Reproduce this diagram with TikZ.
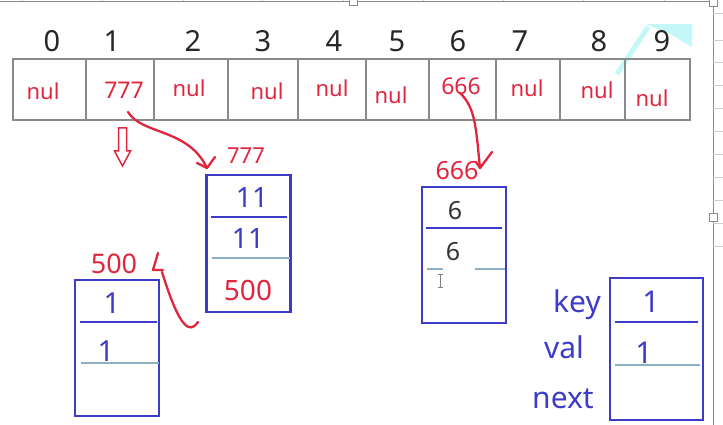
\documentclass[tikz,border=0pt]{standalone}
\usepackage{fontspec}
\setmainfont{Noto Sans}
\usetikzlibrary{arrows.meta}
\definecolor{hred}{HTML}{E0263F}
\definecolor{hblue}{HTML}{3C3CC8}
\definecolor{hlight}{HTML}{8FAFC6}
\definecolor{gridg}{HTML}{8A8A8A}
\definecolor{faint}{HTML}{D0D0D0}
\definecolor{hcyan}{HTML}{C4F8F8}
\begin{document}
\begin{tikzpicture}[x=1pt,y=-1pt,
  cellbox/.style={draw=gridg,line width=1.4pt,inner sep=0pt,outer sep=0pt,minimum height=61pt},
  idx/.style={anchor=base,inner sep=0pt,font=\fontsize{29}{29}\selectfont,text=black!85},
  redtxt/.style={anchor=base,inner sep=0pt,text=hred,font=\fontsize{22}{22}\selectfont},
  bluetxt/.style={anchor=base,inner sep=0pt,text=hblue},
  nodebox/.style={draw=hblue,line width=2.2pt,inner sep=0pt,outer sep=0pt,minimum width=84pt},
  darkdiv/.style={draw=hblue,line width=2.4pt},
  lightdiv/.style={draw=hlight,line width=2pt},
  pen/.style={draw=hred,line width=2.3pt,line cap=round,line join=round}]
\useasboundingbox (0,0) rectangle (723,425);
% spreadsheet frame
\draw[gridg,line width=0.8pt] (0,1) -- (713,1);
\draw[gridg,line width=0.8pt] (713,1) -- (713,425);
\foreach \x in {22,102,183,262,343,423,503,583,664}
  \draw[faint,line width=0.5pt] (\x,0) -- (\x,1);
\foreach \y in {13,40,62,85,108,131,154,177,200,223,246}
  \draw[faint,line width=0.6pt] (713,\y) -- (723,\y);
\draw[gridg,fill=white,line width=0.6pt] (349,-3) rectangle (357,5);
\draw[gridg,fill=white,line width=0.6pt] (709,-2) rectangle (717,6);
\draw[gridg,fill=white,line width=0.6pt] (709,213) rectangle (717,221);
% cyan highlight
\draw[hcyan,line width=5pt] (617,74) -- (648,27);
\fill[hcyan] (646,24) -- (692,24) -- (692,47) -- (670,34) -- cycle;
% array cells
\node[cellbox,minimum width=73pt] (c0) at (49.5,89.5) {};
\node[cellbox,minimum width=68pt] (c1) at (120,89.5) {};
\node[cellbox,minimum width=74pt] (c2) at (191,89.5) {};
\node[cellbox,minimum width=70pt] (c3) at (263,89.5) {};
\node[cellbox,minimum width=68pt] (c4) at (332,89.5) {};
\node[cellbox,minimum width=63pt] (c5) at (397.5,89.5) {};
\node[cellbox,minimum width=67pt] (c6) at (462.5,89.5) {};
\node[cellbox,minimum width=64pt] (c7) at (528,89.5) {};
\node[cellbox,minimum width=65pt] (c8) at (592.5,89.5) {};
\node[cellbox,minimum width=65pt] (c9) at (657.5,89.5) {};
% indices
\node[idx] (i0) at (52,52) {0};
\node[idx] (i1) at (112,52) {1};
\node[idx] (i2) at (193,52) {2};
\node[idx] (i3) at (263,52) {3};
\node[idx] (i4) at (334,52) {4};
\node[idx] (i5) at (397,52) {5};
\node[idx] (i6) at (458,52) {6};
\node[idx] (i7) at (520,52) {7};
\node[idx] (i8) at (599,52) {8};
\node[idx] (i9) at (662,52) {9};
% cell contents
\node[redtxt] (t0) at (43,100) {nul};
\node[redtxt,font=\fontsize{23}{23}\selectfont] (t1) at (124,99) {777};
\node[redtxt] (t2) at (189,97) {nul};
\node[redtxt] (t3) at (267,100) {nul};
\node[redtxt] (t4) at (332,97) {nul};
\node[redtxt] (t5) at (391,104) {nul};
\node[redtxt,font=\fontsize{23}{23}\selectfont] (t6) at (461,95) {666};
\node[redtxt] (t7) at (527,97) {nul};
\node[redtxt] (t8) at (597,99) {nul};
\node[redtxt] (t9) at (652,107) {nul};
% hollow down arrow
\draw[hred,line width=1.5pt,line join=miter] (118.5,128) -- (126.5,128) -- (126.5,151) -- (130.5,151)
  -- (122.5,166) -- (114.5,151) -- (118.5,151) -- cycle;
% box 777
\node[nodebox,minimum height=137pt] (b777) at (248.5,243.5) {};
\draw[darkdiv] (211,217) -- (287,217);
\draw[lightdiv] (212,258) -- (290,258);
\node[bluetxt,font=\fontsize{28}{28}\selectfont] (k777) at (252,207) {11};
\node[bluetxt,font=\fontsize{28}{28}\selectfont] (v777) at (248,248) {11};
\node[redtxt,font=\fontsize{28}{28}\selectfont] (n777) at (248,300) {500};
\node[redtxt,font=\fontsize{22}{22}\selectfont] (l777) at (246,164) {777};
% box 500
\node[nodebox,minimum height=136pt] (b500) at (117,348) {};
\draw[darkdiv] (80,322) -- (157,322);
\draw[lightdiv] (81,363) -- (159,363);
\node[bluetxt,font=\fontsize{29}{29}\selectfont] (k500) at (112,313) {1};
\node[bluetxt,font=\fontsize{29}{29}\selectfont] (v500) at (106,361) {1};
\node[redtxt,font=\fontsize{27}{27}\selectfont] (l500) at (114,273) {500};
% box 666
\node[nodebox,minimum height=136pt] (b666) at (464,255) {};
\draw[darkdiv] (426,228) -- (502,228);
\draw[lightdiv] (427,269) -- (443,269);
\draw[lightdiv] (475,269) -- (505,269);
\node[anchor=base,inner sep=0pt,font=\fontsize{25}{25}\selectfont,text=black!80] (k666) at (455,219) {6};
\node[anchor=base,inner sep=0pt,font=\fontsize{25}{25}\selectfont,text=black!80] (v666) at (453,260) {6};
\node[redtxt,font=\fontsize{25}{25}\selectfont] (l666) at (457,179) {666};
% text cursor
\draw[gray,line width=1pt] (440,274) -- (440,287) (437.5,274) -- (442.5,274) (437.5,287) -- (442.5,287);
% legend box
\node[nodebox,minimum width=93pt,minimum height=142pt] (bleg) at (656.5,349) {};
\draw[darkdiv] (615,322) -- (698,322);
\draw[lightdiv] (615,365) -- (700,365);
\node[bluetxt,font=\fontsize{30}{30}\selectfont] (kleg) at (651,312) {1};
\node[bluetxt,font=\fontsize{30}{30}\selectfont] (vleg) at (644,363) {1};
\node[bluetxt,font=\fontsize{30}{30}\selectfont,anchor=base east] (lkey) at (601,312) {key};
\node[bluetxt,font=\fontsize{30}{30}\selectfont] (lval) at (564,358) {val};
\node[bluetxt,font=\fontsize{30}{30}\selectfont] (lnext) at (563,408) {next};
% hand-drawn arrows
\coordinate (a1s) at ([shift={(4,13)}]t1.base);
\coordinate (a1e) at (207,168);
\draw[pen] (a1s) .. controls (142,135) and (188,128) .. (a1e);
\draw[pen] (197,163) -- (a1e) -- (215,157);
\coordinate (a6s) at ([shift={(-1,-2)}]t6.base);
\coordinate (a6e) at (480,168);
\draw[pen] (a6s) .. controls (476,108) and (476,130) .. (a6e);
\draw[pen] (476,162) -- (a6e) -- (492,152);
\coordinate (a5s) at ([shift={(-50,22)}]n777.base);
\coordinate (a5e) at (162,272);
\draw[pen] (a5s) .. controls (190,334) and (180,330) .. (a5e);
\draw[pen] (163,270) -- (153,270) -- (158,253);
\end{tikzpicture}
\end{document}
